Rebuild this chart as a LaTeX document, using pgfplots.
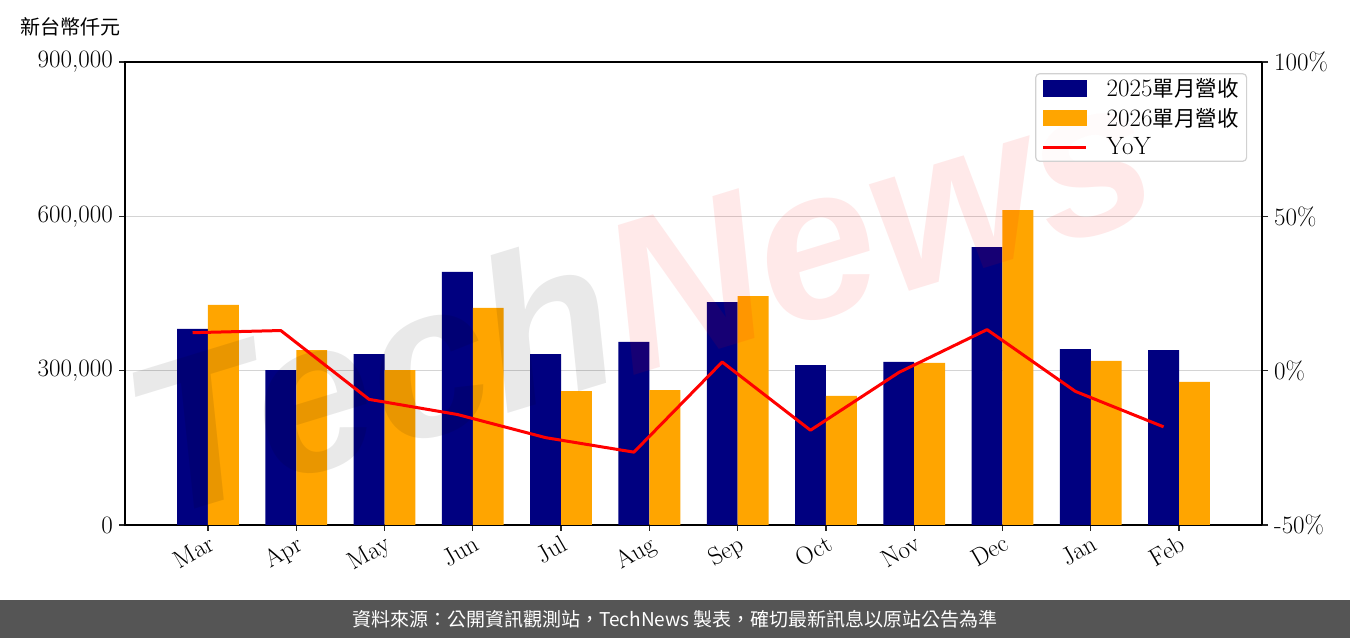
\documentclass[border=0pt]{standalone}
\usepackage{pgfplots}
\pgfplotsset{compat=1.18}
\usepackage{fontspec}
\newfontfamily\cjk{Noto Sans CJK TC}
\newfontfamily\wmfont{Liberation Sans}
\definecolor{navybar}{HTML}{000080}
\definecolor{orangebar}{HTML}{FFA500}
\definecolor{footerbg}{HTML}{555555}
\newcommand\lbl{\fontsize{25bp}{28bp}\selectfont}
\newcommand\cjklbl{\cjk\fontsize{21.5bp}{28bp}\selectfont}

\begin{document}
\begin{tikzpicture}
\path[use as bounding box] (0bp,0bp) rectangle (1350bp,638bp);

% monthly revenue bars (NT$ thousand)
\begin{axis}[
  at={(125bp,113bp)}, anchor=south west,
  width=1137bp, height=463bp, scale only axis,
  xmin=-0.94, xmax=11.94, ymin=0, ymax=900000,
  axis line style={line width=1.6bp, black},
  xtick={0,...,11},
  xticklabels={Mar,Apr,May,Jun,Jul,Aug,Sep,Oct,Nov,Dec,Jan,Feb},
  x tick label style={rotate=30, anchor=north east, font=\lbl, inner sep=2bp},
  ytick={0,300000,600000,900000},
  yticklabels={0,{300,000},{600,000},{900,000}},
  y tick label style={font=\lbl, inner sep=6bp},
  xtick pos=bottom, ytick pos=left,
  tick align=outside, major tick length=6bp,
  tick style={line width=1.2bp, black!85},
  ymajorgrids, grid style={line width=1.3bp, black!17},
  scaled y ticks=false,
]
\addplot[ybar, bar width=0.35, bar shift=-0.175, fill=navybar, draw=none]
  coordinates {(0,381000) (1,301000) (2,332000) (3,492000) (4,332000) (5,356000)
               (6,433000) (7,311000) (8,317000) (9,540000) (10,342000) (11,340000)};
\addplot[ybar, bar width=0.35, bar shift=0.175, fill=orangebar, draw=none]
  coordinates {(0,428000) (1,340000) (2,301000) (3,422000) (4,260000) (5,262000)
               (6,445000) (7,251000) (8,315000) (9,612000) (10,319000) (11,278000)};
\end{axis}

% watermark
\node[rotate=17, inner sep=0pt, text opacity=0.085] at (640bp,345bp)
  {\wmfont\bfseries\itshape\fontsize{215bp}{215bp}\selectfont
   {\color{black}Tech}{\color{red}News}};

% year-over-year change (%)
\begin{axis}[
  at={(125bp,113bp)}, anchor=south west,
  width=1137bp, height=463bp, scale only axis,
  xmin=-0.94, xmax=11.94, ymin=-50, ymax=100,
  axis x line=none, axis y line*=right,
  axis line style={line width=1.6bp, black},
  ytick={-50,0,50,100},
  yticklabels={-50\%,0\%,50\%,100\%},
  y tick label style={font=\lbl, inner sep=6bp},
  tick align=outside, major tick length=6bp,
  tick style={line width=1.2bp, black!85},
  legend style={at={(rel axis cs:0.987,0.976)}, anchor=north east,
    draw=black!18, line width=1.2bp, rounded corners=4bp,
    fill=white, fill opacity=0.8, text opacity=1,
    font=\lbl, inner xsep=6bp, inner ysep=3bp, row sep=6bp,
    /tikz/every odd column/.append style={column sep=17bp}},
  legend cell align=left,
]
\addlegendimage{legend image code/.code={\fill[navybar, sharp corners, fill opacity=1] (0bp,-7.5bp) rectangle (43bp,7.5bp);}}
\addlegendentry{2025{\cjklbl 單月營收}}
\addlegendimage{legend image code/.code={\fill[orangebar, sharp corners, fill opacity=1] (0bp,-7.5bp) rectangle (43bp,7.5bp);}}
\addlegendentry{2026{\cjklbl 單月營收}}
\addplot[red, line width=3bp, line join=round,
  legend image code/.code={\draw[red, line width=3bp, sharp corners] (0bp,0bp) -- (43bp,0bp);}]
  coordinates {(-0.175,12.3) (0.825,13.0) (1.825,-9.3) (2.825,-14.2) (3.825,-21.7)
               (4.825,-26.4) (5.825,2.8) (6.825,-19.3) (7.825,-0.6) (8.825,13.3)
               (9.825,-6.7) (10.825,-18.2)};
\addlegendentry{YoY}
\end{axis}

\node[anchor=west, inner sep=0pt] at (20bp,611bp)
  {\cjk\fontsize{20bp}{24bp}\selectfont 新台幣仟元};

\fill[footerbg] (0bp,0bp) rectangle (1350bp,38bp);
\node[text=white, inner sep=0pt] at (675bp,19bp)
  {\cjk\fontsize{19bp}{24bp}\selectfont 資料來源：公開資訊觀測站，TechNews 製表，確切最新訊息以原站公告為準};
\end{tikzpicture}
\end{document}
